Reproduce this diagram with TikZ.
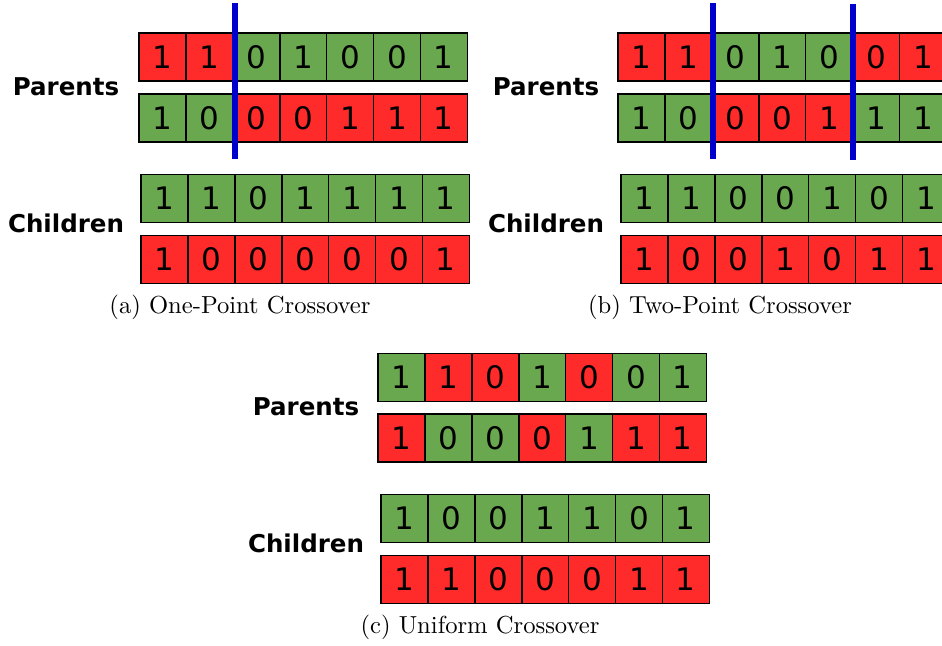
\documentclass[tikz,border=0pt]{standalone}
\usepackage{fontspec}
\usepackage{tikz}
\newfontfamily\genefont{DejaVu Sans}

\definecolor{genered}{RGB}{255,42,42}
\definecolor{genegreen}{RGB}{106,168,79}
\definecolor{cutblue}{RGB}{0,0,205}

% one chromosome: name, left x, centre y, list of bit/colour
\newcommand{\chromosome}[4]{%
	\foreach \bit/\col [count=\i] in {#4} {
		\node[gene, fill=\col] (#1-\i) at ({#2+(\i-0.5)*46.9}, #3) {\bit};
	}
}

\begin{document}
\begin{tikzpicture}[x=1pt, y=-1pt,
	gene/.style={draw=black, line width=1.6pt, minimum width=46.9pt, minimum height=48pt, inner sep=0pt, font=\genefont\fontsize{31}{31}\selectfont},
	tag/.style={font=\genefont\bfseries\fontsize{24.5}{25}\selectfont},
	caption/.style={font=\normalsize, scale=2.46},
	cut/.style={draw=cutblue, line width=6pt}]
	\clip (0,0) rectangle (942,645);
	\fill[white] (0,0) rectangle (942,645);

	% (a) one point
	\node[tag] (a-par) at (66,87) {Parents};
	\chromosome{a-p1}{139}{57}{1/genered,1/genered,0/genegreen,1/genegreen,0/genegreen,0/genegreen,1/genegreen}
	\chromosome{a-p2}{139}{118}{1/genegreen,0/genegreen,0/genered,0/genered,1/genered,1/genered,1/genered}
	\coordinate (a-cut-top) at (235,3); \coordinate (a-cut-bot) at (235,159);
	\draw[cut] (a-cut-top) -- (a-cut-bot);
	\node[tag] (a-chi) at (66,223) {Children};
	\chromosome{a-c1}{141}{198.5}{1/genegreen,1/genegreen,0/genegreen,1/genegreen,1/genegreen,1/genegreen,1/genegreen}
	\chromosome{a-c2}{141}{259.5}{1/genered,0/genered,0/genered,0/genered,0/genered,0/genered,1/genered}
	\node[caption] (a-cap) at (240,307) {(a) One-Point Crossover};

	% (b) two point
	\node[tag] (b-par) at (546,87) {Parents};
	\chromosome{b-p1}{618}{57}{1/genered,1/genered,0/genegreen,1/genegreen,0/genegreen,0/genered,1/genered}
	\chromosome{b-p2}{618}{118}{1/genegreen,0/genegreen,0/genered,0/genered,1/genered,1/genegreen,1/genegreen}
	\coordinate (b-cut1-top) at (713,3); \coordinate (b-cut1-bot) at (713,159);
	\coordinate (b-cut2-top) at (853,4); \coordinate (b-cut2-bot) at (853,160);
	\draw[cut] (b-cut1-top) -- (b-cut1-bot);
	\draw[cut] (b-cut2-top) -- (b-cut2-bot);
	\node[tag] (b-chi) at (546,223) {Children};
	\chromosome{b-c1}{621}{198.5}{1/genegreen,1/genegreen,0/genegreen,0/genegreen,1/genegreen,0/genegreen,1/genegreen}
	\chromosome{b-c2}{621}{259.5}{1/genered,0/genered,0/genered,1/genered,0/genered,1/genered,1/genered}
	\node[caption] (b-cap) at (720,307) {(b) Two-Point Crossover};

	% (c) uniform
	\node[tag] (c-par) at (306,407) {Parents};
	\chromosome{c-p1}{378}{377.5}{1/genegreen,1/genered,0/genered,1/genegreen,0/genered,0/genegreen,1/genegreen}
	\chromosome{c-p2}{378}{438}{1/genered,0/genegreen,0/genegreen,0/genered,1/genegreen,1/genered,1/genered}
	\node[tag] (c-chi) at (306,543) {Children};
	\chromosome{c-c1}{381}{518.5}{1/genegreen,0/genegreen,0/genegreen,1/genegreen,1/genegreen,0/genegreen,1/genegreen}
	\chromosome{c-c2}{381}{579.5}{1/genered,1/genered,0/genered,0/genered,0/genered,1/genered,1/genered}
	\node[caption] (c-cap) at (480,627) {(c) Uniform Crossover};
\end{tikzpicture}
\end{document}
